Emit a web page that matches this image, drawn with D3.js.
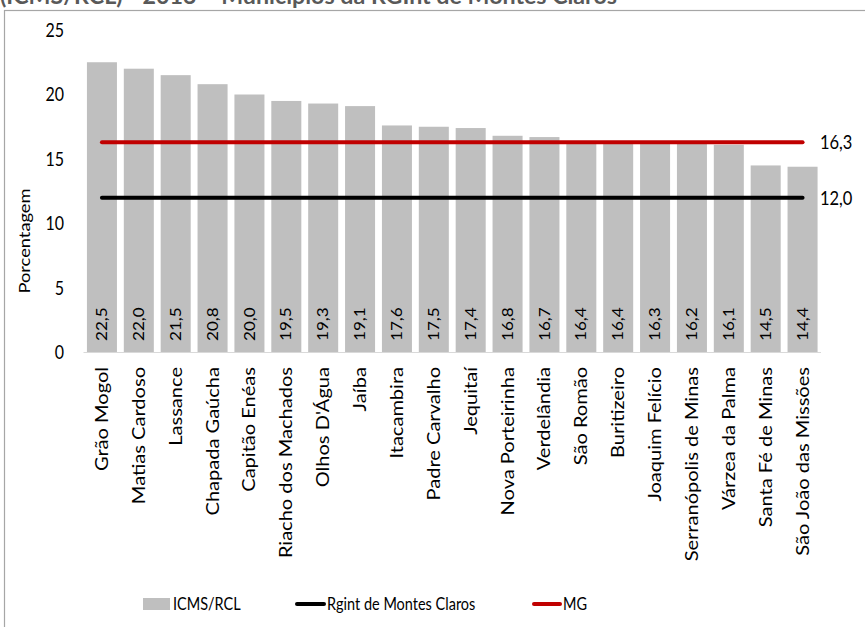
<!DOCTYPE html>
<html>
<head>
<meta charset="utf-8">
<script src="https://cdn.jsdelivr.net/npm/d3@7"></script>
<style>
  html, body { margin: 0; padding: 0; background: #fff; }
  svg { display: block; font-family: Lato, "Open Sans", sans-serif; }
</style>
</head>
<body>
<svg id="chart" width="865" height="627"></svg>
<script>
// Municípios da RGInt de Montes Claros — ICMS/RCL 2013 (%)
const municipios = [
  "Grão Mogol", "Matias Cardoso", "Lassance", "Chapada Gaúcha", "Capitão Enéas",
  "Riacho dos Machados", "Olhos D'Água", "Jaíba", "Itacambira", "Padre Carvalho",
  "Jequitaí", "Nova Porteirinha", "Verdelândia", "São Romão", "Buritizeiro",
  "Joaquim Felício", "Serranópolis de Minas", "Várzea da Palma", "Santa Fé de Minas",
  "São João das Missões"
];
const icmsRcl = [22.5, 22.0, 21.5, 20.8, 20.0, 19.5, 19.3, 19.1, 17.6, 17.5,
                 17.4, 16.8, 16.7, 16.4, 16.4, 16.3, 16.2, 16.1, 14.5, 14.4];
const rgintMontesClaros = 12.0;
const mg = 16.3;
const yTicks = [0, 5, 10, 15, 20, 25];
const legendLabels = ["ICMS/RCL", "Rgint de Montes Claros", "MG"];
const titleText = "(ICMS/RCL) - 2013 – Municípios da RGInt de Montes Claros";

const SY = 1.18; // vertical stretch applied to text
const fmt = v => d3.format(".1f")(v).replace(".", ",");

const svg = d3.select("#chart");

// outer frame
svg.append("rect")
  .attr("x", 4.5).attr("y", 10.5)
  .attr("width", 900).attr("height", 700)
  .attr("fill", "#fff").attr("stroke", "#a6a6a6").attr("stroke-width", 1.2);

// title (partly above the frame)
svg.append("text")
  .attr("transform", `translate(0,4) scale(1,${SY})`)
  .attr("font-weight", "bold").attr("font-size", 18.5)
  .attr("fill", "#595959")
  .attr("textLength", 617).attr("lengthAdjust", "spacingAndGlyphs")
  .text(titleText);

const x = d3.scaleBand()
  .domain(municipios)
  .range([83.5, 821])
  .paddingInner(0.186)
  .paddingOuter(0.093);

const y = d3.scaleLinear().domain([0, 25]).range([352.5, 30]);

// y tick labels
svg.append("g").selectAll("text")
  .data(yTicks).join("text")
  .attr("transform", d => `translate(64,${y(d)}) scale(1,${SY})`)
  .attr("text-anchor", "end").attr("dy", "0.35em")
  .attr("font-size", 16).attr("fill", "#000")
  .text(d => d);

// y axis title
svg.append("text")
  .attr("transform", `translate(25,241) scale(1,${SY}) rotate(-90)`)
  .attr("text-anchor", "middle").attr("dy", "0.35em")
  .attr("font-size", 15.5).attr("fill", "#000")
  .text("Porcentagem");

// bars
svg.append("g").selectAll("rect")
  .data(icmsRcl).join("rect")
  .attr("x", (d, i) => x(municipios[i]))
  .attr("y", d => y(d))
  .attr("width", x.bandwidth())
  .attr("height", d => y(0) - y(d))
  .attr("fill", "#bfbfbf");

// category axis baseline
svg.append("line")
  .attr("x1", x.range()[0]).attr("x2", x.range()[1])
  .attr("y1", y(0)).attr("y2", y(0))
  .attr("stroke", "#d9d9d9").attr("stroke-width", 1);

// bar value labels
svg.append("g").selectAll("text")
  .data(icmsRcl).join("text")
  .attr("transform", (d, i) =>
    `translate(${x(municipios[i]) + x.bandwidth() / 2},341) scale(1,${SY}) rotate(-90)`)
  .attr("dy", "0.35em")
  .attr("font-size", 14.5).attr("fill", "#000")
  .text(d => fmt(d));

// category labels
svg.append("g").selectAll("text")
  .data(municipios).join("text")
  .attr("transform", d =>
    `translate(${x(d) + x.bandwidth() / 2},367) scale(1,${SY}) rotate(-90)`)
  .attr("text-anchor", "end").attr("dy", "0.35em")
  .attr("font-size", 17).attr("fill", "#000")
  .text(d => d);

// reference lines
const first = municipios[0], last = municipios[municipios.length - 1];
const lineX1 = x(first) + x.bandwidth() / 2, lineX2 = x(last) + x.bandwidth() / 2;
const refLines = [
  { value: rgintMontesClaros, color: "#000000" },
  { value: mg, color: "#c00000" }
];
svg.append("g").selectAll("line")
  .data(refLines).join("line")
  .attr("x1", lineX1).attr("x2", lineX2)
  .attr("y1", d => y(d.value)).attr("y2", d => y(d.value))
  .attr("stroke", d => d.color).attr("stroke-width", 4)
  .attr("stroke-linecap", "round");

svg.append("g").selectAll("text")
  .data(refLines).join("text")
  .attr("transform", d => `translate(820,${y(d.value)}) scale(1,${SY})`)
  .attr("dy", "0.35em")
  .attr("font-size", 16.5).attr("fill", "#000")
  .text(d => fmt(d.value));

// legend
const lg = svg.append("g");
lg.append("rect").attr("x", 143).attr("y", 598).attr("width", 27).attr("height", 12)
  .attr("fill", "#bfbfbf");
lg.append("line").attr("x1", 297).attr("x2", 324).attr("y1", 604).attr("y2", 604)
  .attr("stroke", "#000").attr("stroke-width", 4).attr("stroke-linecap", "round");
lg.append("line").attr("x1", 534).attr("x2", 560).attr("y1", 604).attr("y2", 604)
  .attr("stroke", "#c00000").attr("stroke-width", 4).attr("stroke-linecap", "round");
const legendX = [173, 327, 563];
lg.selectAll("text")
  .data(legendLabels).join("text")
  .attr("transform", (d, i) => `translate(${legendX[i]},604) scale(1,${SY})`)
  .attr("dy", "0.35em")
  .attr("font-size", 14.5).attr("fill", "#000")
  .text(d => d);
</script>
</body>
</html>
